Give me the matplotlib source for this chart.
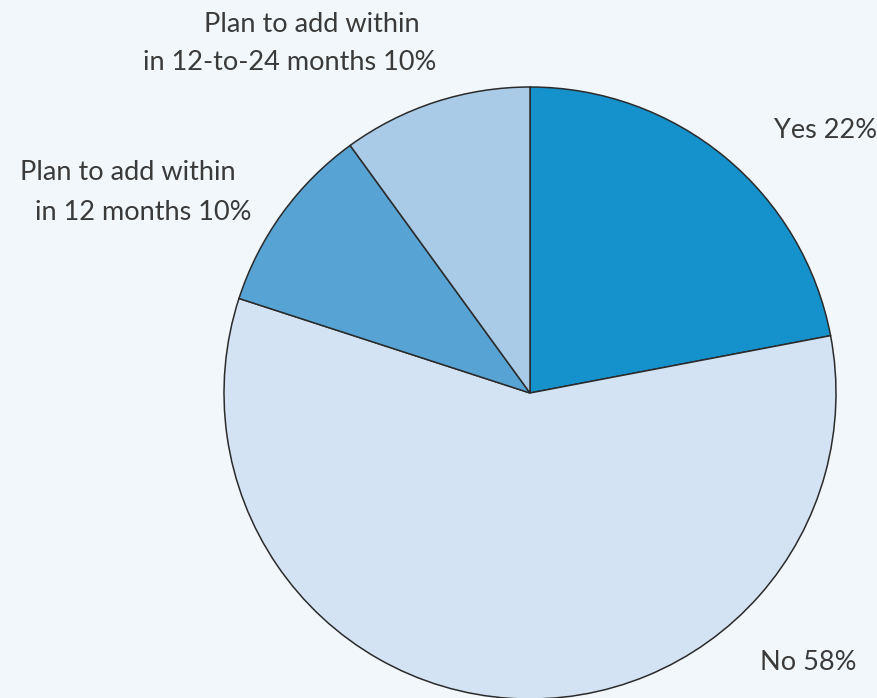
import matplotlib.pyplot as plt

# slices, clockwise from 12 o'clock
labels = ["Yes", "No", "Plan to add within\nin 12 months", "Plan to add within\nin 12-to-24 months"]
values = [22, 58, 10, 10]
colors = ["#1592cb", "#d3e3f3", "#56a3d4", "#aacbe7"]

bg = "#f2f7fc"
W, H = 877, 698

fig = plt.figure(figsize=(W / 100, H / 100), dpi=100, facecolor=bg)
ax = fig.add_axes([0, 0, 1, 1])
ax.set_facecolor(bg)

ax.pie(values, colors=colors, startangle=90, counterclock=False,
       center=(530, H - 393), radius=306, frame=True,
       wedgeprops=dict(edgecolor="#2b2b2b", linewidth=1.1))

ax.set_xlim(0, W)
ax.set_ylim(0, H)
ax.set_aspect("equal")
ax.axis("off")

font = dict(family=["Lato", "DejaVu Sans"], fontsize=19.5, color="#3a3a3a", va="center")

def put(lines, xs, ys):
    for s, x, y in zip(lines, xs, ys):
        ax.text(x, H - y, s, ha="center", **font)

put([f"{labels[0]} {values[0]}%"], [826], [130])
put([f"{labels[1]} {values[1]}%"], [808], [662])
l2 = labels[2].split("\n")
put([l2[0], f"{l2[1]} {values[2]}%"], [128, 143], [173, 212])
l3 = labels[3].split("\n")
put([l3[0], f"{l3[1]} {values[3]}%"], [312, 290], [25, 62])

fig.savefig("out.png", dpi=100, facecolor=bg)
